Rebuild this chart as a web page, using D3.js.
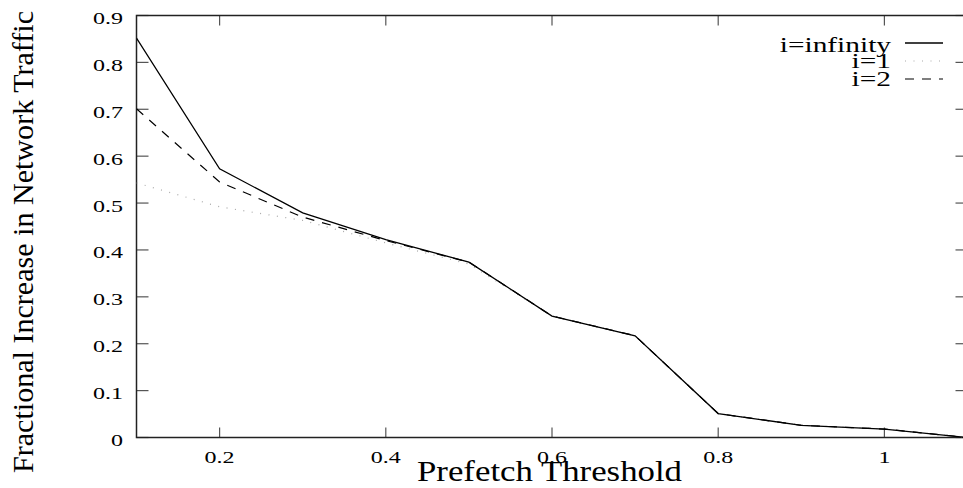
<!DOCTYPE html>
<html><head><meta charset="utf-8">
<script src="https://cdn.jsdelivr.net/npm/d3@7/dist/d3.min.js"></script>
<style>body{margin:0;background:#fff}svg{display:block}</style>
</head><body><svg id="c" width="963" height="488" font-family="Liberation Serif, Times New Roman, serif"></svg>
<script>
const thresholds = [0.1,0.2,0.3,0.4,0.5,0.6,0.7,0.8,0.9,1.0,1.1];
const seriesInfinity = [0.852,0.573,0.479,0.422,0.374,0.259,0.217,0.051,0.026,0.018,0.0];
const seriesI1 = [0.543,0.492,0.463,0.415,0.370,0.259,0.217,0.051,0.026,0.018,0.0];
const seriesI2 = [0.701,0.545,0.470,0.420,0.374,0.259,0.217,0.051,0.026,0.018,0.0];
const seriesNames = ["i=infinity","i=1","i=2"];
const xTicks = [0.2,0.4,0.6,0.8,1];
const yTicks = [0,0.1,0.2,0.3,0.4,0.5,0.6,0.7,0.8,0.9];

const FF = "Liberation Serif";
const svg = d3.select("#c");
const L=136.5, R=967.5, T=15.5, B=437.5;
const x = d3.scaleLinear().domain([0.1,1.1]).range([L,R]);
const y = d3.scaleLinear().domain([0,0.9]).range([B,T]);

const styles = [
  {stroke:"#000", dash:null, width:1.3},
  {stroke:"#aaa", dash:"1,7.5", width:1.2},
  {stroke:"#000", dash:"9,8", width:1.2}
];
const all = [seriesInfinity, seriesI1, seriesI2];

function stretched(g, tx, ty, sx, anchor, size, txt){
  return g.append("text").attr("transform",`translate(${tx},${ty}) scale(${sx},1)`)
    .attr("text-anchor",anchor).attr("font-family",FF).attr("font-size",size).attr("fill","#000").text(txt);
}

// ticks inward on all sides
const tk = svg.append("g").attr("stroke","#555").attr("stroke-width",1.2);
yTicks.forEach(v=>{
  tk.append("line").attr("x1",L).attr("x2",L+12).attr("y1",y(v)).attr("y2",y(v));
  tk.append("line").attr("x1",R).attr("x2",R-12).attr("y1",y(v)).attr("y2",y(v));
});
xTicks.forEach(v=>{
  tk.append("line").attr("x1",x(v)).attr("x2",x(v)).attr("y1",B).attr("y2",B-10);
  tk.append("line").attr("x1",x(v)).attr("x2",x(v)).attr("y1",T).attr("y2",T+10);
});

// border
svg.append("rect").attr("x",L).attr("y",T).attr("width",R-L).attr("height",B-T)
  .attr("fill","none").attr("stroke","#222").attr("stroke-width",1.5);

// tick labels
const lab = svg.append("g");
yTicks.forEach(v=>stretched(lab,123,y(v)+8.5,1.5,"end",16,v===0?"0":d3.format(".1f")(v)));
xTicks.forEach(v=>stretched(lab,x(v),463,1.5,"middle",16,v===1?"1":d3.format(".1f")(v)));

// lines
const line = d3.line().x((d,i)=>x(thresholds[i])).y(d=>y(d));
svg.append("clipPath").attr("id","cp").append("rect").attr("x",L).attr("y",T-2).attr("width",R-L).attr("height",B-T+4);
[1,2,0].forEach(k=>{
  svg.append("path").datum(all[k]).attr("d",line).attr("fill","none")
    .attr("stroke",styles[k].stroke).attr("stroke-width",styles[k].width)
    .attr("stroke-dasharray",styles[k].dash).attr("clip-path","url(#cp)");
});

// legend
const legY = [43,61,79];
const legTextY = [51.5,67.5,85.5];
const lg = svg.append("g");
seriesNames.forEach((n,k)=>{
  stretched(lg,891,legTextY[k],1.4,"end",21,n);
  lg.append("line").attr("x1",905).attr("x2",943).attr("y1",legY[k]).attr("y2",legY[k])
    .attr("stroke",styles[k].stroke).attr("stroke-width",styles[k].width).attr("stroke-dasharray",styles[k].dash);
});

// axis titles
svg.append("text").attr("x",549.5).attr("y",481).attr("text-anchor","middle").attr("font-family",FF)
  .attr("font-size",30).attr("textLength",265).attr("lengthAdjust","spacingAndGlyphs").text("Prefetch Threshold");
svg.append("text").attr("transform","translate(33,242) rotate(-90)").attr("text-anchor","middle").attr("font-family",FF)
  .attr("font-size",29).attr("textLength",462).attr("lengthAdjust","spacingAndGlyphs").text("Fractional Increase in Network Traffic");
</script></body></html>
